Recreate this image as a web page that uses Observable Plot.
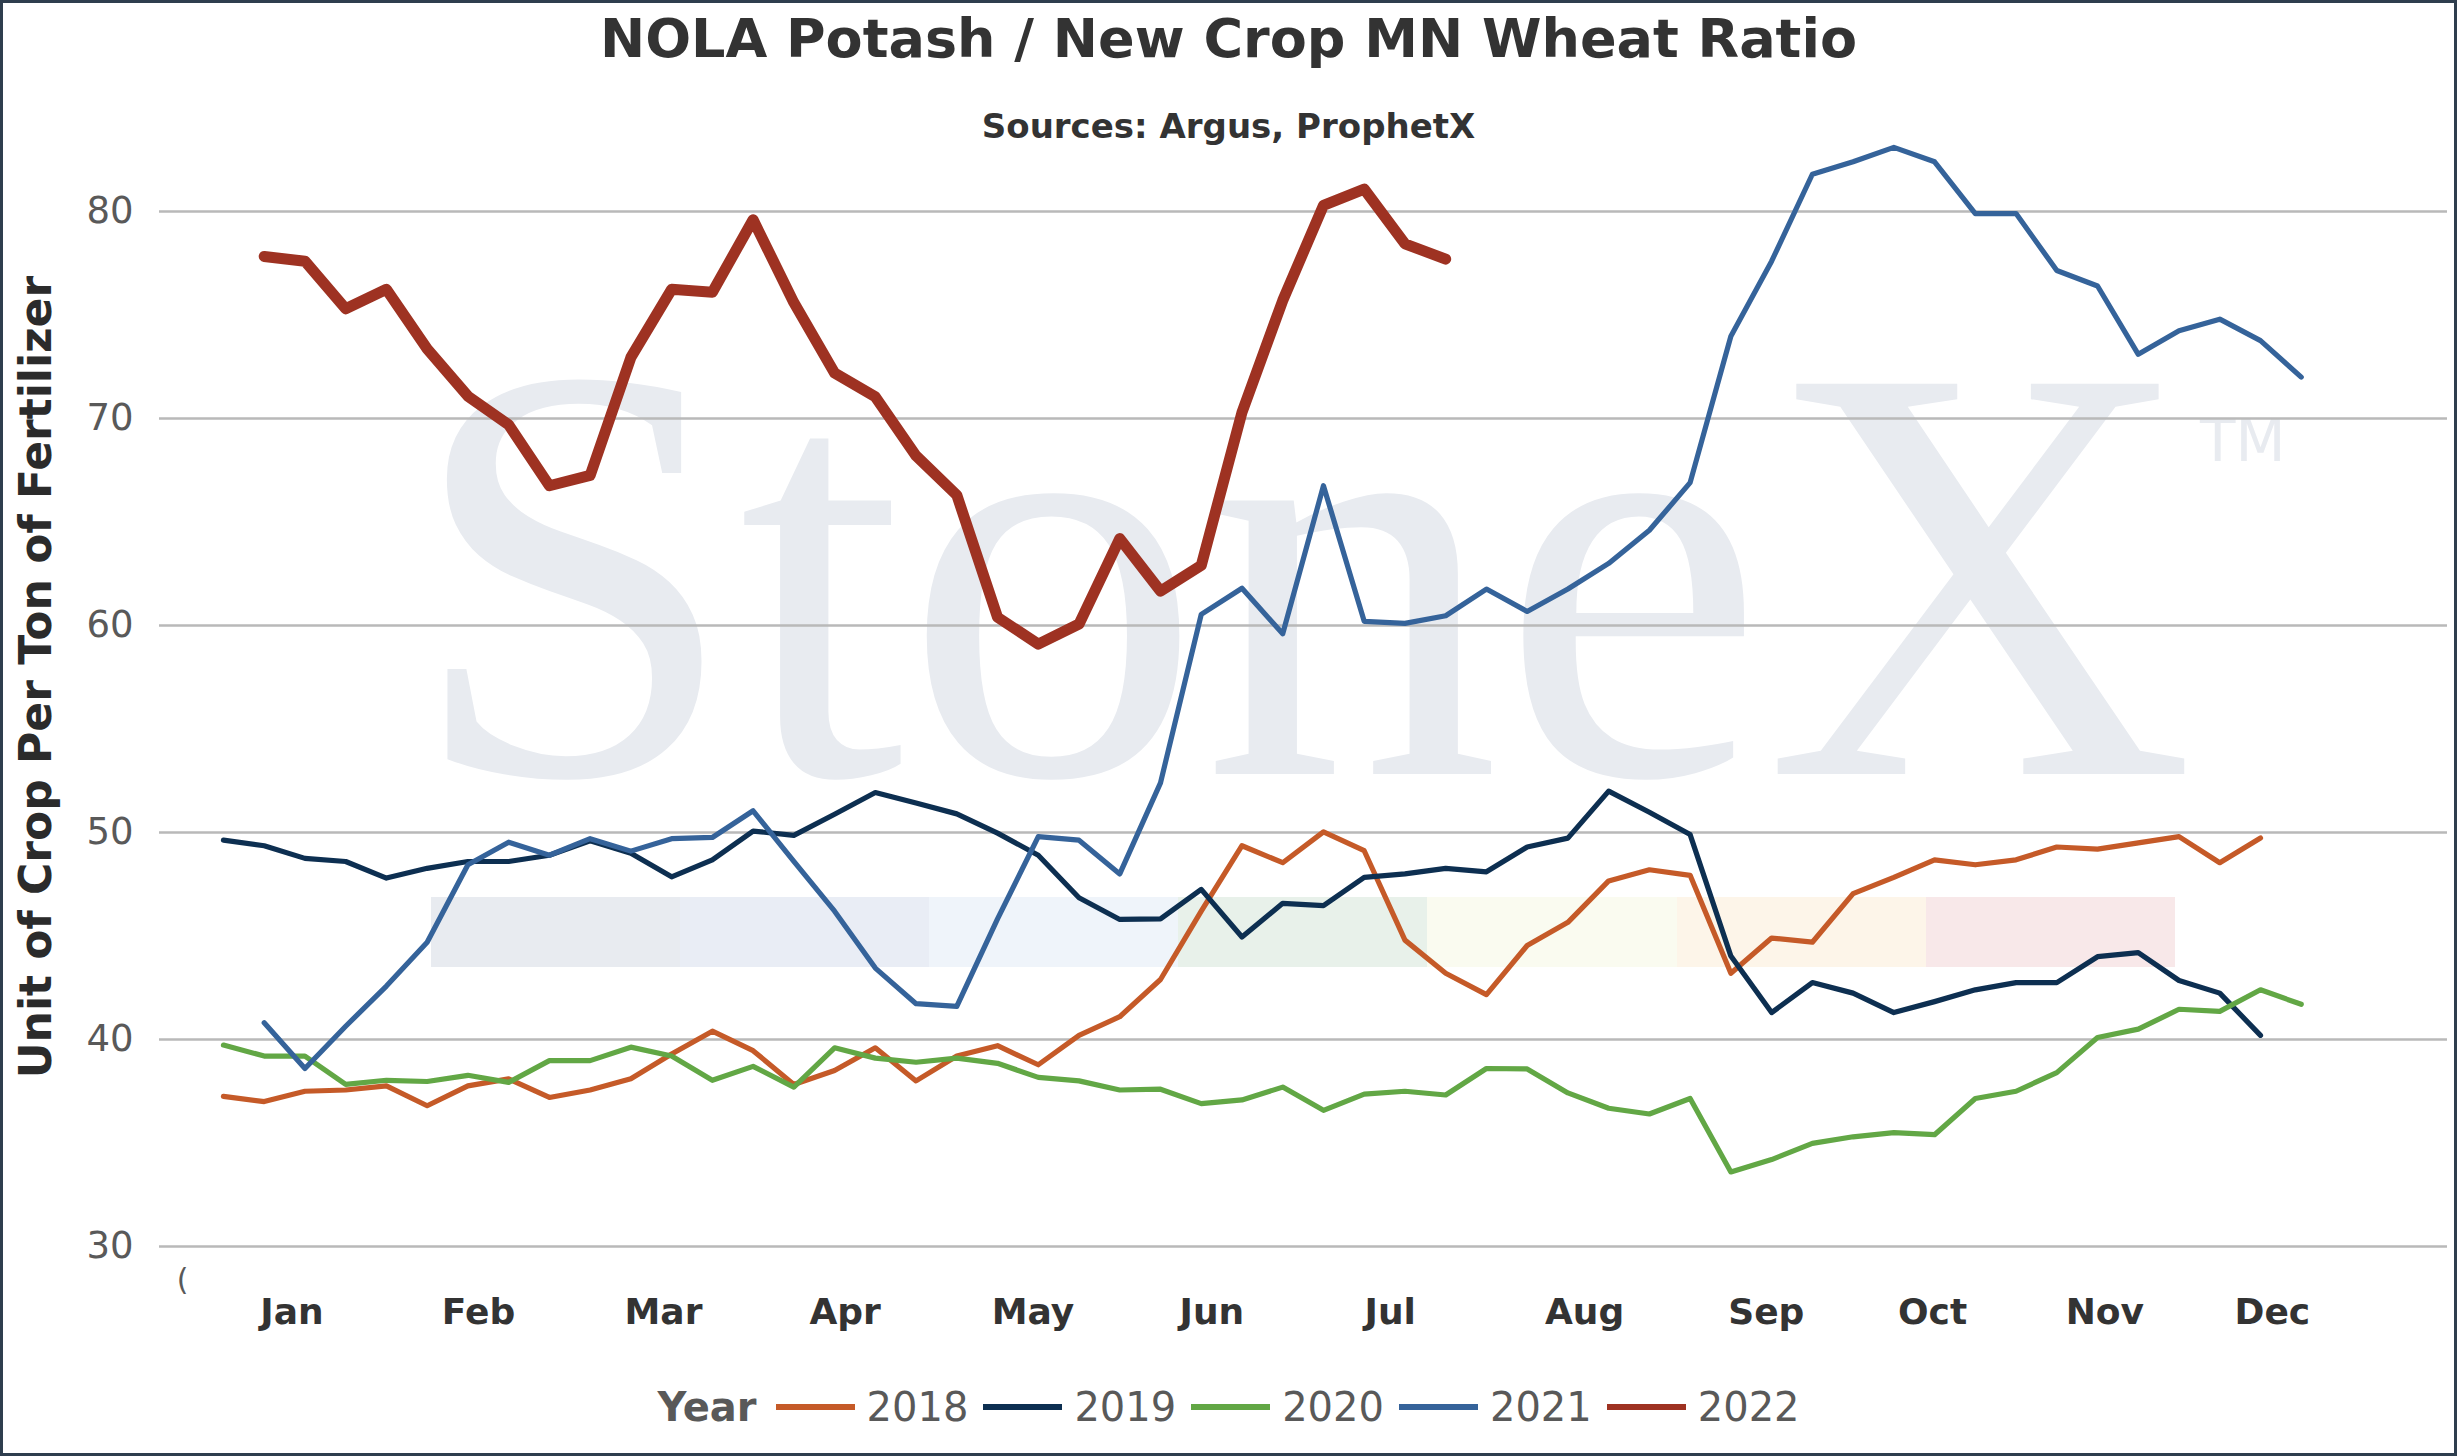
<!DOCTYPE html>
<html>
<head>
<meta charset="utf-8">
<script src="https://cdn.jsdelivr.net/npm/d3@7"></script>
<script src="https://cdn.jsdelivr.net/npm/@observablehq/plot@0.6"></script>
<style>
  html, body { margin: 0; padding: 0; background: #ffffff; }
  #chart { position: relative; width: 2457px; height: 1456px; overflow: hidden; background: #ffffff;
           font-family: "DejaVu Sans", Verdana, sans-serif; }
  #wm { position: absolute; left: 0; top: 0; }
  #plot { position: absolute; left: 0; top: 0; }
  .title { position: absolute; left: 0; width: 2457px; text-align: center; white-space: nowrap;
           font-weight: bold; color: #333333; line-height: 1; }
  #title { top: 12px; font-size: 54px; }
  #subtitle { top: 109px; font-size: 34px; }
  #ylabel { position: absolute; left: 36px; top: 677px; transform: translate(-50%, -50%) rotate(-90deg);
            white-space: nowrap; font-weight: bold; font-size: 44px; color: #2b2b2b; line-height: 1; }
  #legend { position: absolute; left: 0; width: 2457px; top: 1387px; display: flex; justify-content: center;
            align-items: center; font-size: 40px; line-height: 1; color: #595959; }
  #legend .head { font-weight: bold; margin-right: 19px; }
  #legend .item { display: flex; align-items: center; margin-right: 15px; }
  #legend .item:last-child { margin-right: 0; }
  #legend .sw { width: 79px; height: 6px; margin-right: 12px; }
  #border { position: absolute; left: 0; top: 0; width: 2457px; height: 1456px; box-sizing: border-box;
            border: 3px solid #2f3e4e; pointer-events: none; }
</style>
</head>
<body>
<div id="chart">
  <svg id="wm" width="2457" height="1456" xmlns="http://www.w3.org/2000/svg">
    <text x="407" y="774" font-family="Liberation Serif, Times New Roman, serif" font-size="596" fill="#e8ebf0">StoneX</text>
    <text x="2200" y="461" font-family="DejaVu Sans, sans-serif" font-size="58" fill="#e8ebf0">TM</text>
    <rect x="431" y="897" width="249" height="70" fill="#e8ebf0"></rect>
    <rect x="680" y="897" width="249" height="70" fill="#e9edf5"></rect>
    <rect x="929" y="897" width="249" height="70" fill="#eff4fa"></rect>
    <rect x="1178" y="897" width="249" height="70" fill="#e8f1ea"></rect>
    <rect x="1427" y="897" width="250" height="70" fill="#fafbf0"></rect>
    <rect x="1677" y="897" width="249" height="70" fill="#fdf5e9"></rect>
    <rect x="1926" y="897" width="249" height="70" fill="#f8e8e9"></rect>
  </svg>
  <div id="plot"></div>
  <div id="title" class="title">NOLA Potash / New Crop MN Wheat Ratio</div>
  <div id="subtitle" class="title">Sources: Argus, ProphetX</div>
  <div id="ylabel">Unit of Crop Per Ton of Fertilizer</div>
  <div id="legend"></div>
  <div id="border"></div>
</div>
<script>
// ---- Data (ratio per week of year) ----
const years = ["2018", "2019", "2020", "2021", "2022"];
const yearColors = ["#c55a28", "#0d2f51", "#62a745", "#35639a", "#9e3222"];
const startWeek = [1, 1, 1, 2, 2];

const ratio2018 = [37.25, 37.0, 37.5, 37.56, 37.76, 36.8, 37.76, 38.1, 37.2, 37.56,
  38.1, 39.3, 40.4, 39.46, 37.83, 38.5, 39.6, 38.0, 39.2, 39.7,
  38.78, 40.2, 41.1, 42.9, 46.2, 49.36, 48.54, 50.03, 49.12, 44.8,
  43.2, 42.17, 44.54, 45.66, 47.66, 48.2, 47.93, 43.2, 44.9, 44.7,
  47.05, 47.83, 48.68, 48.44, 48.68, 49.3, 49.2, 49.5, 49.8, 48.54, 49.73];

const ratio2019 = [49.63, 49.36, 48.75, 48.6, 47.8, 48.27, 48.6, 48.6, 48.9, 49.6,
  49.0, 47.86, 48.68, 50.07, 49.86, 50.88, 51.93, 51.42, 50.9, 49.97,
  48.9, 46.85, 45.8, 45.83, 47.25, 44.95, 46.58, 46.47, 47.83, 48.0,
  48.27, 48.1, 49.3, 49.73, 52.0, 50.98, 49.9, 44.03, 41.3, 42.75,
  42.24, 41.3, 41.83, 42.4, 42.75, 42.75, 44.0, 44.2, 42.85, 42.24, 40.2];

const ratio2020 = [39.73, 39.2, 39.2, 37.83, 38.03, 37.97, 38.27, 37.93, 38.98, 38.98,
  39.63, 39.2, 38.03, 38.7, 37.7, 39.6, 39.1, 38.9, 39.1, 38.85,
  38.17, 38.0, 37.56, 37.6, 36.9, 37.08, 37.7, 36.58, 37.36, 37.5,
  37.32, 38.6, 38.58, 37.42, 36.68, 36.4, 37.15, 33.6, 34.2, 34.98,
  35.3, 35.5, 35.4, 37.15, 37.5, 38.4, 40.1, 40.5, 41.46, 41.36, 42.4, 41.7];

const ratio2021 = [40.81, 38.6, 40.64, 42.58, 44.7, 48.44, 49.53, 48.9, 49.7,
  49.1, 49.7, 49.76, 51.05, 48.6, 46.2, 43.45, 41.73, 41.6, 45.83,
  49.8, 49.63, 48.0, 52.4, 60.54, 61.8, 59.6, 66.75, 60.2, 60.1,
  60.47, 61.76, 60.68, 61.76, 63.0, 64.6, 66.9, 73.97, 77.6, 81.8,
  82.4, 83.1, 82.4, 79.9, 79.9, 77.15, 76.4, 73.1, 74.24, 74.8, 73.76, 72.0];

const ratio2022 = [77.83, 77.6, 75.3, 76.24, 73.36, 71.08, 69.7, 66.75, 67.25,
  72.95, 76.24, 76.1, 79.6, 75.6, 72.2, 71.05, 68.2, 66.3, 60.4,
  59.1, 60.07, 64.2, 61.66, 62.9, 70.3, 75.7, 80.3, 81.08, 78.44, 77.7];

const ratios = [ratio2018, ratio2019, ratio2020, ratio2021, ratio2022];

const monthLabels = ["Jan", "Feb", "Mar", "Apr", "May", "Jun", "Jul", "Aug", "Sep", "Oct", "Nov", "Dec"];
const monthTickWeeks = [2.68, 7.26, 11.8, 16.26, 20.87, 25.26, 29.64, 34.41, 38.87, 42.95, 47.18, 51.29];
const blankCategory = {week: 0, label: "("};
const yTicks = [30, 40, 50, 60, 70, 80];

// ---- Build table ----
const rows = years.flatMap((yr, j) =>
  ratios[j].map((v, i) => ({year: yr, week: startWeek[j] + i, ratio: v})));
const monthByWeek = new Map(monthTickWeeks.map((w, i) => [w, monthLabels[i]]));

const font = "DejaVu Sans";
const chart = Plot.plot({
  width: 2457,
  height: 1456,
  marginLeft: 159,
  marginRight: 10,
  marginTop: 211,
  marginBottom: 210,
  style: {background: "transparent", maxWidth: "none", overflow: "visible", fontFamily: font},
  x: {domain: [-0.57, 55.59], axis: null, label: null},
  y: {domain: [30, 80], axis: null, label: null},
  color: {domain: years, range: yearColors},
  marks: [
    Plot.gridY(yTicks, {stroke: "#b9b9b9", strokeOpacity: 1, strokeWidth: 2.5}),
    Plot.axisY(yTicks, {anchor: "left", label: null, tickSize: 0, tickPadding: 26, fontSize: 37,
      fontFamily: font, color: "#595959", tickFormat: d => String(d)}),
    Plot.axisX(monthTickWeeks, {anchor: "bottom", label: null, tickSize: 0, tickPadding: 52, fontSize: 36,
      fontWeight: "bold", fontFamily: font, color: "#333333", tickFormat: d => monthByWeek.get(d)}),
    Plot.axisX([blankCategory.week], {anchor: "bottom", label: null, tickSize: 0, tickPadding: 22, fontSize: 30,
      fontFamily: font, color: "#595959", tickFormat: () => blankCategory.label}),
    Plot.line(rows.filter(d => d.year !== "2022"), {x: "week", y: "ratio", z: "year", stroke: "year",
      strokeWidth: 5.2, strokeLinejoin: "round", strokeLinecap: "round"}),
    Plot.line(rows.filter(d => d.year === "2022"), {x: "week", y: "ratio", z: "year", stroke: "year",
      strokeWidth: 11, strokeLinejoin: "round", strokeLinecap: "round"})
  ]
});
document.getElementById("plot").appendChild(chart);

// ---- Legend ----
const legend = document.getElementById("legend");
const head = document.createElement("span");
head.className = "head";
head.textContent = "Year";
legend.appendChild(head);
years.forEach((yr, i) => {
  const item = document.createElement("span");
  item.className = "item";
  const sw = document.createElement("span");
  sw.className = "sw";
  sw.style.background = yearColors[i];
  const t = document.createElement("span");
  t.textContent = yr;
  item.appendChild(sw);
  item.appendChild(t);
  legend.appendChild(item);
});
</script>
</body>
</html>
